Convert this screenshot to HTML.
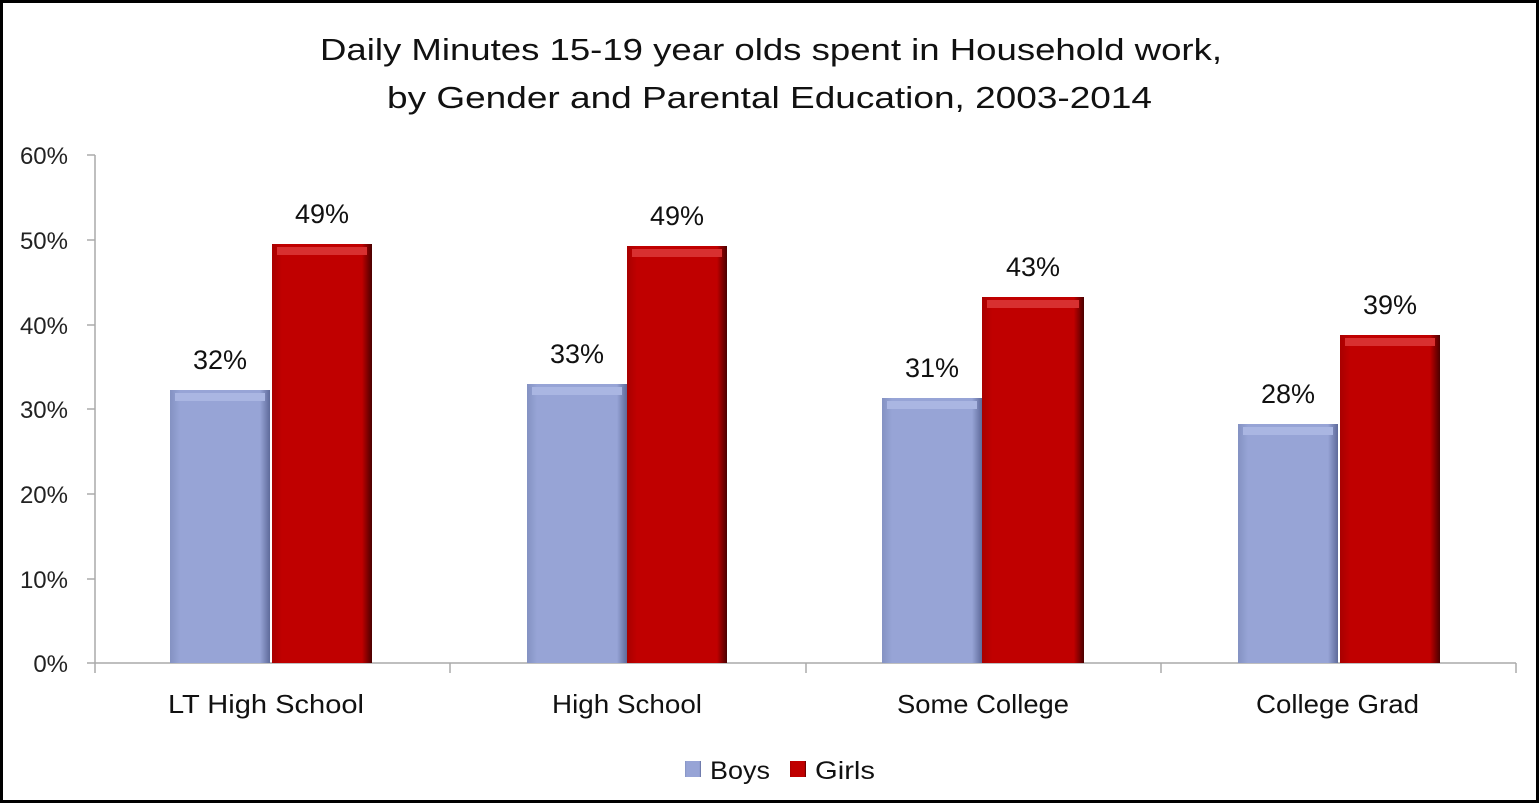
<!DOCTYPE html>
<html><head><style>body{margin:0;background:#fff}svg{display:block}</style></head><body>
<svg width="1539" height="804" xmlns="http://www.w3.org/2000/svg" font-family="Liberation Sans, sans-serif">
<defs>
<linearGradient id="b" x1="0" x2="1"><stop offset="0" stop-color="#8492c2"/><stop offset="0.1" stop-color="#97a4d6"/><stop offset="0.9" stop-color="#97a4d6"/><stop offset="1" stop-color="#5e6a9a"/></linearGradient>
<linearGradient id="g" x1="0" x2="1"><stop offset="0" stop-color="#a80000"/><stop offset="0.1" stop-color="#c00000"/><stop offset="0.9" stop-color="#c00000"/><stop offset="1" stop-color="#4a0000"/></linearGradient>
</defs>
<rect x="1.5" y="1.5" width="1536" height="800" fill="#fff" stroke="#000" stroke-width="3"/>
<text x="320" y="60" font-size="31" textLength="902" lengthAdjust="spacingAndGlyphs" fill="#111">Daily Minutes 15-19 year olds spent in Household work,</text>
<text x="387" y="108" font-size="31" textLength="765" lengthAdjust="spacingAndGlyphs" fill="#111">by Gender and Parental Education, 2003-2014</text>
<g stroke="#aaa" stroke-width="1.5">
<line x1="95" y1="155" x2="95" y2="673"/>
<line x1="87" y1="663" x2="1516" y2="663"/>
<line x1="87" y1="155" x2="95" y2="155"/><line x1="87" y1="240" x2="95" y2="240"/><line x1="87" y1="325" x2="95" y2="325"/><line x1="87" y1="409" x2="95" y2="409"/><line x1="87" y1="494" x2="95" y2="494"/><line x1="87" y1="579" x2="95" y2="579"/>
<line x1="450" y1="663" x2="450" y2="673"/><line x1="806" y1="663" x2="806" y2="673"/><line x1="1161" y1="663" x2="1161" y2="673"/><line x1="1516" y1="663" x2="1516" y2="673"/>
</g>
<g font-size="24" fill="#222" text-anchor="end">
<text x="68" y="164">60%</text><text x="68" y="249">50%</text><text x="68" y="334">40%</text><text x="68" y="418">30%</text><text x="68" y="503">20%</text><text x="68" y="588">10%</text><text x="68" y="672">0%</text>
</g>
<g>
<rect x="170" y="390" width="100" height="273" fill="url(#b)"/><rect x="175" y="393" width="90" height="8" fill="#aab6e2"/>
<rect x="272" y="244" width="100" height="419" fill="url(#g)"/><rect x="277" y="247" width="90" height="8" fill="#d83030"/>
<rect x="527" y="384" width="100" height="279" fill="url(#b)"/><rect x="532" y="387" width="90" height="8" fill="#aab6e2"/>
<rect x="627" y="246" width="100" height="417" fill="url(#g)"/><rect x="632" y="249" width="90" height="8" fill="#d83030"/>
<rect x="882" y="398" width="100" height="265" fill="url(#b)"/><rect x="887" y="401" width="90" height="8" fill="#aab6e2"/>
<rect x="982" y="297" width="102" height="366" fill="url(#g)"/><rect x="987" y="300" width="92" height="8" fill="#d83030"/>
<rect x="1238" y="424" width="100" height="239" fill="url(#b)"/><rect x="1243" y="427" width="90" height="8" fill="#aab6e2"/>
<rect x="1340" y="335" width="100" height="328" fill="url(#g)"/><rect x="1345" y="338" width="90" height="8" fill="#d83030"/>
</g>
<g font-size="27" fill="#111" text-anchor="middle">
<text x="220" y="369">32%</text><text x="322" y="223">49%</text>
<text x="577" y="363">33%</text><text x="677" y="225">49%</text>
<text x="932" y="377">31%</text><text x="1033" y="276">43%</text>
<text x="1288" y="403">28%</text><text x="1390" y="314">39%</text>
</g>
<g font-size="26" fill="#111">
<text x="168" y="713" textLength="196" lengthAdjust="spacingAndGlyphs">LT High School</text>
<text x="552" y="713" textLength="150" lengthAdjust="spacingAndGlyphs">High School</text>
<text x="897" y="713" textLength="172" lengthAdjust="spacingAndGlyphs">Some College</text>
<text x="1256" y="713" textLength="163" lengthAdjust="spacingAndGlyphs">College Grad</text>
</g>
<rect x="685" y="761" width="16" height="16" fill="url(#b)"/>
<text x="710" y="779" font-size="25" fill="#111" textLength="60" lengthAdjust="spacingAndGlyphs">Boys</text>
<rect x="790" y="761" width="16" height="16" fill="url(#g)"/>
<text x="815" y="779" font-size="25" fill="#111" textLength="60" lengthAdjust="spacingAndGlyphs">Girls</text>
</svg>
</body></html>
